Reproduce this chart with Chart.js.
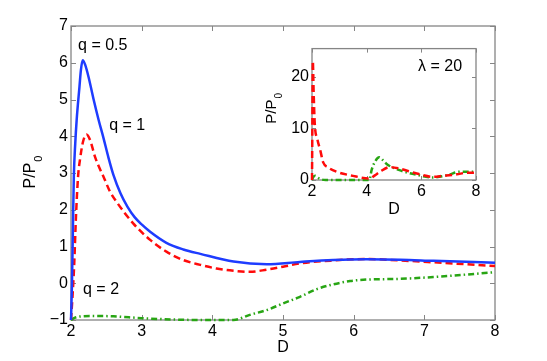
<!DOCTYPE html>
<html>
<head>
<meta charset="utf-8">
<script src="https://cdn.jsdelivr.net/npm/chart.js@4.4.0/dist/chart.umd.min.js"></script>
<style>
  body { margin: 0; background: #fff; }
  #wrap { position: relative; width: 547px; height: 361px; }
  #main { position: absolute; left: 0; top: 0; }
  #inset { position: absolute; left: 262px; top: 36px; }
</style>
</head>
<body>
<div id="wrap">
  <canvas id="main" width="547" height="361"></canvas>
  <canvas id="inset" width="228" height="186"></canvas>
</div>
<script>
// main panel, q = 0.5 / 1 / 2
const dBlue = [2.0, 2.014, 2.027, 2.04, 2.06, 2.08, 2.12, 2.14, 2.165, 2.2, 2.25, 2.32, 2.39, 2.46, 2.53, 2.6, 2.7, 2.8, 2.9, 3.0, 3.12, 3.35, 3.59, 3.83, 4.3, 4.77, 5.24, 5.71, 6.18, 6.66, 7.13, 8.0];
const pBlue = [-1.0, 0.0, 1.5, 2.9, 3.8, 4.44, 5.35, 5.8, 6.07, 5.95, 5.6, 5.0, 4.45, 3.95, 3.42, 2.95, 2.45, 2.08, 1.8, 1.6, 1.4, 1.1, 0.92, 0.8, 0.59, 0.52, 0.58, 0.63, 0.65, 0.64, 0.61, 0.56];

const dRed = [2.0, 2.02, 2.045, 2.07, 2.1, 2.13, 2.17, 2.22, 2.27, 2.34, 2.4, 2.46, 2.55, 2.65, 2.88, 3.12, 3.35, 3.59, 3.83, 4.06, 4.3, 4.53, 4.77, 5.0, 5.24, 5.71, 6.18, 6.66, 7.13, 8.0];
const pRed = [-1.0, -0.4, 0.5, 1.8, 2.9, 3.4, 3.85, 4.05, 3.9, 3.44, 3.15, 2.9, 2.5, 2.2, 1.63, 1.18, 0.86, 0.63, 0.5, 0.4, 0.34, 0.31, 0.37, 0.45, 0.54, 0.62, 0.66, 0.62, 0.57, 0.47];

const dGreen = [2.0, 2.05, 2.15, 2.3, 2.6, 3.0, 3.5, 3.83, 4.3, 4.53, 4.77, 5.0, 5.24, 5.48, 5.71, 5.95, 6.18, 6.66, 7.13, 8.0];
const pGreen = [-1.0, -0.94, -0.9, -0.89, -0.9, -0.95, -0.99, -1.0, -1.0, -0.86, -0.73, -0.55, -0.37, -0.16, -0.03, 0.06, 0.1, 0.12, 0.17, 0.3];

// inset, lambda = 20
const dRedIn = [2.0, 2.015, 2.03, 2.06, 2.1, 2.2, 2.3, 2.41, 2.6, 2.9, 3.5, 4.1, 4.3, 4.49, 4.85, 5.2, 5.83, 6.43, 6.8, 7.3, 7.66, 8.0];
const pRedIn = [0, 12, 23, 17, 11, 7.8, 5.8, 3.4, 2.4, 1.6, 0.8, 0.3, 0.9, 1.6, 2.5, 2.2, 1.25, 0.6, 0.8, 1.1, 1.4, 1.4];

const dGreenIn = [2.0, 2.05, 2.12, 2.2, 2.35, 2.5, 3.5, 4.1, 4.18, 4.3, 4.46, 4.6, 4.73, 5.2, 5.83, 6.43, 7.0, 7.4, 8.0];
const pGreenIn = [0, 0.6, 0.8, 0.5, 0.1, 0, 0, 0, 1.9, 3.5, 4.4, 3.8, 3.1, 1.9, 1.0, 0.5, 1.0, 1.6, 1.6];

const mainXTicks = [2, 3, 4, 5, 6, 7, 8];
const mainYTicks = [-1, 0, 1, 2, 3, 4, 5, 6, 7];
const insetXTicks = [2, 4, 6, 8];
const insetYTicks = [0, 10, 20];

const curveNames = ['q = 0.5', 'q = 1', 'q = 2'];
const insetName = 'λ = 20';

const FONT = '"Liberation Sans", Arial, Helvetica, sans-serif';

function pts(xs, ys) {
    return xs.map((x, i) => ({ x: x, y: ys[i] }));
}

function line(data, color, dash, width) {
    return {
        data: data,
        borderColor: color,
        borderWidth: width,
        borderDash: dash,
        pointRadius: 0,
        fill: false,
        cubicInterpolationMode: 'monotone',
        clip: 6
    };
}

function minusFmt(v) {
    return v < 0 ? '\u2212' + Math.abs(v) : String(v);
}

function scales(xr, xt, yr, yt, yWidth, xHeight) {
    const tickFont = { family: FONT, size: 16 };
    return {
        x: {
            type: 'linear', min: xr[0], max: xr[1],
            afterBuildTicks: s => { s.ticks = xt.map(v => ({ value: v })); },
            afterFit: s => { s.height = xHeight; },
            grid: { display: false, drawTicks: false },
            border: { display: false },
            ticks: { color: '#000', font: tickFont, padding: 2, maxRotation: 0, autoSkip: false, callback: minusFmt }
        },
        y: {
            type: 'linear', min: yr[0], max: yr[1],
            afterBuildTicks: s => { s.ticks = yt.map(v => ({ value: v })); },
            afterFit: s => { s.width = yWidth; },
            grid: { display: false, drawTicks: false },
            border: { display: false },
            ticks: { color: '#000', font: tickFont, padding: 3, autoSkip: false, callback: minusFmt }
        }
    };
}

// frame, inward ticks, axis titles and curve notes
function boxPlugin(cfg) {
    return {
        id: 'box',
        beforeDatasetsDraw(chart) {
            const { ctx, chartArea: a, scales: s } = chart;
            ctx.save();
            ctx.strokeStyle = '#858585';
            ctx.lineWidth = 1.3;
            ctx.strokeRect(a.left, a.top, a.right - a.left, a.bottom - a.top);
            ctx.beginPath();
            cfg.xTicks.forEach(v => {
                const px = Math.round(s.x.getPixelForValue(v)) + 0.5;
                ctx.moveTo(px, a.bottom); ctx.lineTo(px, a.bottom - cfg.tick);
                ctx.moveTo(px, a.top); ctx.lineTo(px, a.top + cfg.tick);
            });
            cfg.yTicks.forEach(v => {
                const py = Math.round(s.y.getPixelForValue(v)) + 0.5;
                ctx.moveTo(a.left, py); ctx.lineTo(a.left + cfg.tick, py);
                ctx.moveTo(a.right, py); ctx.lineTo(a.right - cfg.tick, py);
            });
            ctx.lineWidth = 1;
            ctx.stroke();
            ctx.restore();
        },
        afterDraw(chart) {
            const { ctx, chartArea: a, scales: s } = chart;
            ctx.save();
            ctx.fillStyle = '#000';
            ctx.font = '16px ' + FONT;
            ctx.textAlign = 'center';
            ctx.textBaseline = 'middle';
            ctx.fillText('D', (a.left + a.right) / 2, cfg.xTitleY);

            // y title P/P0 with subscript
            ctx.font = cfg.yFont + 'px ' + FONT;
            const w1 = ctx.measureText('P/P').width;
            ctx.font = cfg.subFont + 'px ' + FONT;
            const w2 = ctx.measureText('0').width;
            const total = w1 + w2 + 1;
            ctx.translate(cfg.yTitleX, (a.top + a.bottom) / 2 + cfg.yShift);
            ctx.rotate(-Math.PI / 2);
            ctx.textAlign = 'left';
            ctx.textBaseline = 'alphabetic';
            ctx.font = cfg.yFont + 'px ' + FONT;
            ctx.fillText('P/P', -total / 2, 0);
            ctx.font = cfg.subFont + 'px ' + FONT;
            ctx.fillText('0', -total / 2 + w1 + 1, cfg.subDrop);
            ctx.setTransform(1, 0, 0, 1, 0, 0);

            ctx.font = '16px ' + FONT;
            ctx.textAlign = 'left';
            ctx.textBaseline = 'middle';
            cfg.notes.forEach(n => {
                ctx.fillText(n.text, s.x.getPixelForValue(n.x), s.y.getPixelForValue(n.y));
            });
            ctx.restore();
        }
    };
}

const BLUE = 'rgb(30, 60, 255)';
const RED = 'rgb(255, 10, 10)';
const GREEN = 'rgb(40, 165, 20)';

new Chart(document.getElementById('main'), {
    type: 'line',
    data: {
        datasets: [
            line(pts(dBlue, pBlue), BLUE, [], 2.5),
            line(pts(dRed, pRed), RED, [7, 4], 2.5),
            line(pts(dGreen, pGreen), GREEN, [6, 3, 1.5, 3], 2.5)
        ]
    },
    options: {
        responsive: false,
        animation: false,
        layout: { padding: { left: 0, right: 52, top: 26, bottom: 0 } },
        scales: scales([2, 8], mainXTicks, [-1, 7], mainYTicks, 71, 41),
        plugins: { legend: { display: false }, tooltip: { enabled: false } }
    },
    plugins: [boxPlugin({
        xTicks: mainXTicks, yTicks: mainYTicks, tick: 5,
        xTitleY: 348, yTitleX: 35, yShift: -1, yFont: 16, subFont: 11, subDrop: 7,
        notes: [
            { text: curveNames[0], x: 2.1, y: 6.48 },
            { text: curveNames[1], x: 2.54, y: 4.28 },
            { text: curveNames[2], x: 2.17, y: -0.18 }
        ]
    })]
});

new Chart(document.getElementById('inset'), {
    type: 'line',
    data: {
        datasets: [
            line(pts(dRedIn, pRedIn), RED, [7, 4], 2.5),
            line(pts(dGreenIn, pGreenIn), GREEN, [6, 3, 1.5, 3], 2.5)
        ]
    },
    options: {
        responsive: false,
        animation: false,
        layout: { padding: { left: 0, right: 14, top: 8, bottom: 0 } },
        scales: scales([2, 8], insetXTicks, [0, 25.4], insetYTicks, 50, 42),
        plugins: { legend: { display: false }, tooltip: { enabled: false } }
    },
    plugins: [boxPlugin({
        xTicks: insetXTicks, yTicks: insetYTicks, tick: 4,
        xTitleY: 174, yTitleX: 14, yShift: -6, yFont: 15, subFont: 10, subDrop: 6,
        notes: [
            { text: insetName, x: 5.88, y: 21.9 }
        ]
    })]
});
</script>
</body>
</html>
